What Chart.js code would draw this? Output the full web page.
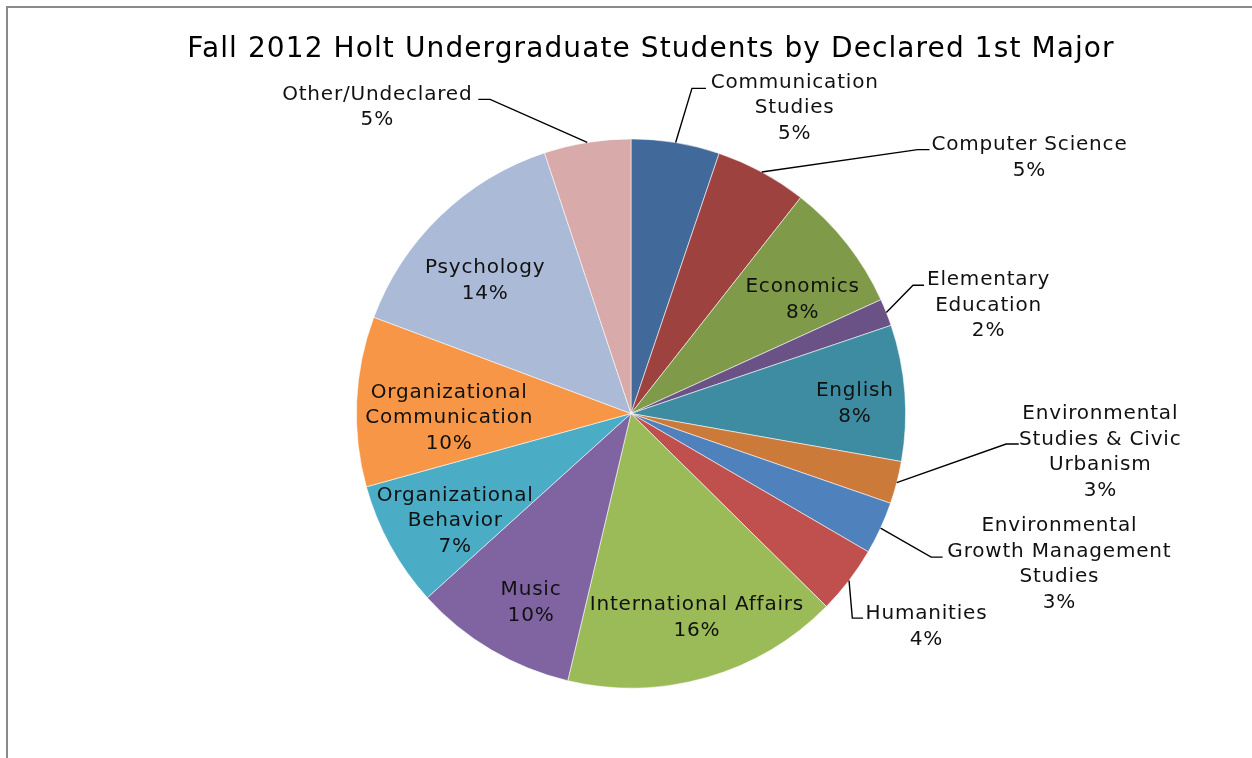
<!DOCTYPE html>
<html>
<head>
<meta charset="utf-8">
<script src="https://cdn.jsdelivr.net/npm/chart.js@4.4.1/dist/chart.umd.min.js"></script>
<style>
  html, body { margin: 0; padding: 0; background: #fff; }
  #wrap { position: relative; width: 1252px; height: 758px; overflow: hidden; }
  #frame {
    position: absolute; left: 6px; top: 6px; right: 0; bottom: 0;
    border-top: 2px solid #8a8a8a; border-left: 2px solid #8a8a8a;
  }
  #chart { position: absolute; left: 0; top: 0; }
</style>
</head>
<body>
<div id="wrap">
  <div id="frame"></div>
  <canvas id="chart" width="1252" height="758"></canvas>
</div>
<script>
// share of declared 1st majors, clockwise from 12 o'clock
const majors = [
  "Communication Studies", "Computer Science", "Economics", "Elementary Education",
  "English", "Environmental Studies & Civic Urbanism", "Environmental Growth Management Studies",
  "Humanities", "International Affairs", "Music", "Organizational Behavior",
  "Organizational Communication", "Psychology", "Other/Undeclared"
]
const shares = [5.2, 5.4, 7.6, 1.6, 8.0, 2.5, 3.1, 4.0, 16.3, 9.6, 7.4, 10.0, 14.2, 5.1]

// how each label is wrapped on the chart
const labelLines = [
  ["Communication", "Studies"], ["Computer Science"], ["Economics"], ["Elementary", "Education"],
  ["English"], ["Environmental", "Studies & Civic", "Urbanism"], ["Environmental", "Growth Management", "Studies"],
  ["Humanities"], ["International Affairs"], ["Music"], ["Organizational", "Behavior"],
  ["Organizational", "Communication"], ["Psychology"], ["Other/Undeclared"]
]

const colors = [
  "#416a9b", "#9d423f", "#7f9a49", "#6a5286", "#3e8ca2", "#cc7a39", "#4f81bd",
  "#c0504d", "#9bbb59", "#8064a2", "#4bacc6", "#f79646", "#aabad7", "#d9aaaa"
]

// label placement in units of the pie radius, relative to its centre
// (at = text block centre, elbow/end = leader line bend and end)
const labelPlaces = [
  { at: [0.596, -1.117], elbow: [0.222, -1.184], end: [0.273, -1.184] },
  { at: [1.451, -0.936], elbow: [1.044, -0.961], end: [1.087, -0.961] },
  { at: [0.625, -0.420] },
  { at: [1.302, -0.399], elbow: [1.027, -0.467], end: [1.067, -0.467] },
  { at: [0.815, -0.040] },
  { at: [1.709, 0.135], elbow: [1.366, 0.111], end: [1.412, 0.111] },
  { at: [1.560, 0.544], elbow: [1.093, 0.523], end: [1.135, 0.523] },
  { at: [1.076, 0.771], elbow: [0.806, 0.745], end: [0.845, 0.745] },
  { at: [0.240, 0.738] },
  { at: [-0.364, 0.684] },
  { at: [-0.640, 0.387] },
  { at: [-0.662, 0.012] },
  { at: [-0.531, -0.489] },
  { at: [-0.924, -1.120], elbow: [-0.513, -1.144], end: [-0.556, -1.144] }
]

const titleText = "Fall 2012 Holt Undergraduate Students by Declared 1st Major"
const fontFamily = "'DejaVu Sans', sans-serif"

const sliceLabels = {
  id: "sliceLabels",
  afterDatasetsDraw(chart) {
    const ctx = chart.ctx
    const arcs = chart.getDatasetMeta(0).data
    const total = shares.reduce((a, b) => a + b, 0)
    const c = arcs[0].getProps(["x", "y", "outerRadius"], true)
    const r = c.outerRadius
    const lineH = 25.5

    ctx.save()
    ctx.strokeStyle = "#000"
    ctx.lineWidth = 1.4
    ctx.fillStyle = "#111"
    ctx.font = "20px " + fontFamily
    ctx.letterSpacing = "0.8px"
    ctx.textAlign = "center"
    ctx.textBaseline = "middle"

    arcs.forEach((arc, i) => {
      const p = arc.getProps(["x", "y", "startAngle", "endAngle", "outerRadius"], true)
      const place = labelPlaces[i]
      if (place.elbow) {
        const mid = (p.startAngle + p.endAngle) / 2
        ctx.beginPath()
        ctx.moveTo(p.x + Math.cos(mid) * p.outerRadius, p.y + Math.sin(mid) * p.outerRadius)
        ctx.lineTo(c.x + place.elbow[0] * r, c.y + place.elbow[1] * r)
        ctx.lineTo(c.x + place.end[0] * r, c.y + place.end[1] * r)
        ctx.stroke()
      }
      const lines = labelLines[i].concat(Math.round(shares[i] / total * 100) + "%")
      const tx = c.x + place.at[0] * r
      const ty = c.y + place.at[1] * r + 1.5
      lines.forEach((ln, k) => {
        ctx.fillText(ln, tx, ty + (k - (lines.length - 1) / 2) * lineH)
      })
    })

    // title
    ctx.font = "28px " + fontFamily
    ctx.letterSpacing = "1.1px"
    ctx.fillStyle = "#000"
    ctx.fillText(titleText, 651, 50)
    ctx.restore()
  }
}

new Chart(document.getElementById("chart"), {
  type: "pie",
  data: {
    labels: majors,
    datasets: [{
      data: shares,
      backgroundColor: colors,
      borderColor: "rgba(255,255,255,0.7)",
      borderWidth: 0.8
    }]
  },
  options: {
    responsive: false,
    animation: false,
    layout: { padding: { left: 356, right: 346, top: 138.5, bottom: 69.5 } },
    plugins: {
      legend: { display: false },
      tooltip: { enabled: false }
    }
  },
  plugins: [sliceLabels]
})
</script>
</body>
</html>
